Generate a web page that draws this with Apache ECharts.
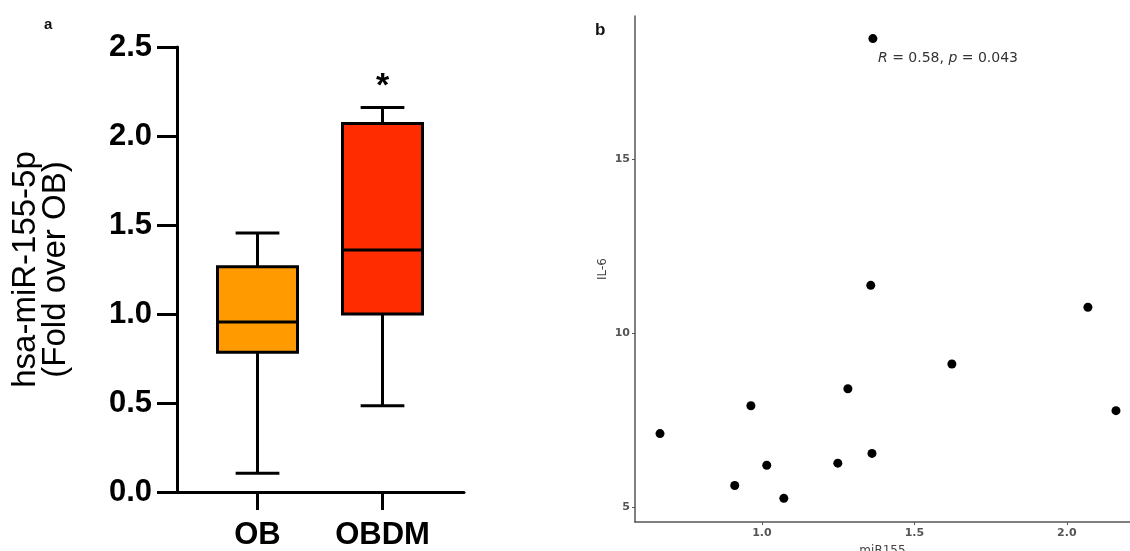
<!DOCTYPE html>
<html><head><meta charset="utf-8">
<script src="https://cdn.jsdelivr.net/npm/echarts@6/dist/echarts.min.js"></script>
<style>html,body{margin:0;padding:0;background:#fff}#c{width:1130px;height:551px}</style>
</head><body><div id="c"></div>
<script>
// Panel a: box plot data
const groups = ['OB', 'OBDM'];
const boxMin = [0.105, 0.485];
const boxQ1 = [0.785, 1.0];
const boxMedian = [0.955, 1.36];
const boxQ3 = [1.265, 2.07];
const boxMax = [1.455, 2.16];
const boxColors = ['#FF9A00', '#FF2C00'];
const significance = ['', '*'];

// Panel b: scatter data
const mir155 = [1.364, 1.357, 2.069, 1.623, 1.282, 0.964, 2.161, 0.666, 1.361, 1.016, 1.249, 0.911, 1.072];
const il6 =    [18.46, 11.37, 10.74, 9.11, 8.40, 7.91, 7.77, 7.11, 6.54, 6.20, 6.26, 5.62, 5.25];
const xTicksB = [1.0, 1.5, 2.0];
const yTicksB = [5, 10, 15];

const chart = echarts.init(document.getElementById('c'));
const boxData = groups.map((g, i) => [i, boxMin[i], boxQ1[i], boxMedian[i], boxQ3[i], boxMax[i]]);
const scatterData = mir155.map((x, i) => [x, il6[i]]);

const FONT = '"Liberation Sans", Arial, sans-serif';
const FONTB = '"DejaVu Sans", sans-serif';

chart.setOption({
  animation: false,
  backgroundColor: '#fff',
  title: [
    { text: 'a', left: 39, top: 12, textStyle: { fontSize: 15, fontWeight: 'bold', color: '#111', fontFamily: FONT } },
    { text: 'b', left: 590, top: 17, textStyle: { fontSize: 17, fontWeight: 'bold', color: '#111', fontFamily: FONT } },
    { text: '{i|R} = 0.58, {i|p} = 0.043', left: 873, top: 46,
      textStyle: { fontSize: 14, fontWeight: 'normal', color: '#333', fontFamily: FONTB,
        rich: { i: { fontStyle: 'italic', fontWeight: 'normal', fontSize: 14, color: '#333', fontFamily: FONTB } } } }
  ],
  grid: [
    { left: 177, width: 287, top: 47, bottom: 59, outerBoundsMode: 'none' },
    { left: 195, width: 250, top: 47, bottom: 59, outerBoundsMode: 'none' },
    { left: 635, right: 0, top: 16, bottom: 29, outerBoundsMode: 'none' }
  ],
  xAxis: [
    { gridIndex: 0, type: 'value', min: 0, max: 1,
      axisLine: { show: true, lineStyle: { color: '#000', width: 3 } },
      axisTick: { show: false }, axisLabel: { show: false }, splitLine: { show: false } },
    { gridIndex: 1, type: 'category', data: groups,
      axisLine: { show: false },
      axisTick: { show: true, alignWithLabel: true, length: 18, lineStyle: { color: '#000', width: 3 } },
      axisLabel: { margin: 28, fontSize: 31, fontWeight: 'bold', color: '#000', fontFamily: FONT },
      splitLine: { show: false } },
    { gridIndex: 2, type: 'value', min: 0.584, max: 2.207,
      name: 'miR155', nameLocation: 'middle', nameGap: 23,
      nameTextStyle: { fontSize: 12, color: '#444', fontFamily: FONTB },
      axisLine: { show: true, lineStyle: { color: '#555', width: 1.5 } },
      axisTick: { show: true, length: 3, customValues: xTicksB, lineStyle: { color: '#555' } },
      axisLabel: { customValues: xTicksB, formatter: v => v.toFixed(1), fontSize: 11, fontWeight: 'bold', color: '#555', margin: 6, fontFamily: FONTB },
      splitLine: { show: false } }
  ],
  yAxis: [
    { gridIndex: 0, type: 'value', min: 0, max: 2.5, interval: 0.5,
      name: 'hsa-miR-155-5p\n(Fold over OB)', nameLocation: 'middle', nameGap: 106,
      nameTextStyle: { fontSize: 33, color: '#000', fontFamily: FONT, lineHeight: 30 },
      axisLine: { show: true, lineStyle: { color: '#000', width: 3 } },
      axisTick: { show: true, length: 20, lineStyle: { color: '#000', width: 3 } },
      axisLabel: { margin: 25, fontSize: 31, fontWeight: 'bold', color: '#000', fontFamily: FONT, formatter: v => v.toFixed(1) },
      splitLine: { show: false } },
    { gridIndex: 1, type: 'value', min: 0, max: 2.5, show: false },
    { gridIndex: 2, type: 'value', min: 4.57, max: 19.11,
      name: 'IL-6', nameLocation: 'middle', nameGap: 26,
      nameTextStyle: { fontSize: 12, color: '#444', fontFamily: FONTB },
      axisLine: { show: true, lineStyle: { color: '#555', width: 1.5 } },
      axisTick: { show: true, length: 3, customValues: yTicksB, lineStyle: { color: '#555' } },
      axisLabel: { customValues: yTicksB, fontSize: 11, fontWeight: 'bold', color: '#555', margin: 5, fontFamily: FONTB },
      splitLine: { show: false } }
  ],
  series: [
    {
      type: 'custom', xAxisIndex: 1, yAxisIndex: 1,
      data: boxData,
      encode: { x: 0, y: [1, 2, 3, 4, 5] },
      renderItem: function (params, api) {
        const i = api.value(0);
        const xc = api.coord([i, 0])[0];
        const band = api.size([1, 0])[0];
        const bw = band * 0.64, cw = band * 0.35;
        const yMin = api.coord([i, api.value(1)])[1];
        const yQ1 = api.coord([i, api.value(2)])[1];
        const yMed = api.coord([i, api.value(3)])[1];
        const yQ3 = api.coord([i, api.value(4)])[1];
        const yMax = api.coord([i, api.value(5)])[1];
        const ls = { stroke: '#000', lineWidth: 3 };
        return {
          type: 'group',
          children: [
            { type: 'line', shape: { x1: xc, y1: yQ3, x2: xc, y2: yMax }, style: ls },
            { type: 'line', shape: { x1: xc, y1: yQ1, x2: xc, y2: yMin }, style: ls },
            { type: 'line', shape: { x1: xc - cw / 2, y1: yMax, x2: xc + cw / 2, y2: yMax }, style: ls },
            { type: 'line', shape: { x1: xc - cw / 2, y1: yMin, x2: xc + cw / 2, y2: yMin }, style: ls },
            { type: 'rect', shape: { x: xc - bw / 2, y: yQ3, width: bw, height: yQ1 - yQ3 },
              style: { fill: boxColors[i], stroke: '#000', lineWidth: 3 } },
            { type: 'line', shape: { x1: xc - bw / 2, y1: yMed, x2: xc + bw / 2, y2: yMed }, style: ls },
            { type: 'text', x: xc, y: yMax - 38,
              style: { text: significance[i], fontSize: 34, fontWeight: 'bold', fill: '#000', align: 'center', verticalAlign: 'top', fontFamily: FONT } }
          ]
        };
      }
    },
    {
      type: 'scatter', xAxisIndex: 2, yAxisIndex: 2,
      data: scatterData, symbolSize: 9,
      itemStyle: { color: '#000', opacity: 1 }
    }
  ]
});
</script>
</body></html>
